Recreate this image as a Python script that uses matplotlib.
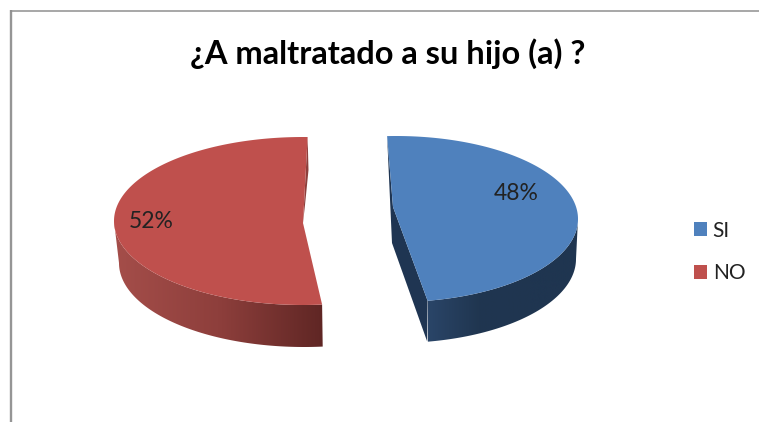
import numpy as np
import matplotlib
matplotlib.use('Agg')
import matplotlib.pyplot as plt
from matplotlib.colors import LinearSegmentedColormap
from matplotlib.patches import Patch, Polygon

title = '¿A maltratado a su hijo (a) ?'
categories = ['SI', 'NO']
values = [48, 52]

plt.rcParams['font.family'] = ['Lato', 'DejaVu Sans']

def arc(cx, cy, a, b, t0, t1):
    t = np.radians(np.linspace(t0, t1, 200))
    return np.column_stack([cx + a*np.cos(t), cy - b*np.sin(t)])

def side(ax, pts, cols, x0, x1, y0, y1):
    # gradient band clipped to the side of the slice
    cmap = LinearSegmentedColormap.from_list('s', cols)
    im = ax.imshow(np.linspace(0, 1, 256).reshape(1, -1), cmap=cmap, aspect='auto',
                   extent=(x0, x1, y1, y0), zorder=2)
    clip = Polygon(pts, closed=True, transform=ax.transData, fc='none', ec='none')
    ax.add_patch(clip)
    im.set_clip_path(clip)

fig = plt.figure(figsize=(7.59, 4.22), dpi=100)
ax = fig.add_axes([0, 0, 1, 1])

# frame of the pasted chart
ax.plot([11, 11], [10, 422], color='#959595', lw=1.7, zorder=1, solid_capstyle='butt')
ax.plot([10, 759], [10.8, 10.8], color='#8f8f8f', lw=1.1, zorder=1, solid_capstyle='butt')

span = [v/sum(values)*360 for v in values]

# SI slice, clockwise from the top
blue_start = 92.8
blue_end = blue_start - span[0]
blue_top = arc(396, 219, 182, 83, blue_start, blue_end)
blue_low = arc(396, 259, 180, 84, 0, blue_end)
blue_apex = (393, 207)
blue_apex_low = (392, 243)
inner = [blue_top[0], blue_apex_low, blue_low[-1], blue_top[-1], blue_apex]
ax.add_patch(Polygon(inner, closed=True, fc='#1f3552', ec='none', zorder=2))
blue_rim = arc(396, 219, 182, 83, 0, blue_end)
side(ax, np.vstack([blue_rim, blue_low[::-1]]), ['#2a4568', '#203650', '#1f3550', '#1f3550'],
     blue_rim[-1][0], 580, 210, 350)
ax.add_patch(Polygon(np.vstack([blue_top, [blue_apex]]), closed=True, fc='#4f81bd', ec='none', zorder=3))

# NO slice, counter clockwise from the top
red_start = 88.6
red_end = red_start + span[1]
red_top = arc(303, 221, 189, 84, red_start, red_end)
red_low = arc(304, 263, 185, 84, 180, red_end)
red_apex = (303, 223)
red_rim = arc(303, 221, 189, 84, 180, red_end)
side(ax, np.vstack([red_rim, red_low[::-1]]), ['#a54e4a', '#8e3f3c', '#5f2624'],
     112, 324, 215, 350)
sliver = [red_top[0], (308.5, 170), (305, 205), red_apex]
ax.add_patch(Polygon(sliver, closed=True, fc='#8d3f3c', ec='none', zorder=2))
ax.add_patch(Polygon(np.vstack([red_top, [red_apex]]), closed=True, fc='#bf504d', ec='none', zorder=3))

# labels
ax.text(516, 193, '%d%%' % values[0], fontsize=16.5, color='#222222', ha='center', va='center', zorder=4)
ax.text(151, 221, '%d%%' % values[1], fontsize=16.5, color='#222222', ha='center', va='center', zorder=4)

ax.text(388, 54, title, fontsize=23.5, fontweight='bold', color='black', ha='center', va='center')

handles = [Patch(fc='#4f81bd', label=categories[0]), Patch(fc='#bf504d', label=categories[1])]
ax.legend(handles=handles, loc='center left', bbox_to_anchor=(694/759, 1 - 252/422), frameon=False,
          fontsize=15, handlelength=0.62, handleheight=0.62, handletextpad=0.28, labelspacing=1.1,
          borderpad=0, borderaxespad=0, labelcolor='#222222')

ax.set_xlim(0, 759)
ax.set_ylim(422, 0)
ax.axis('off')
fig.savefig('out.png', dpi=100, facecolor='white')
